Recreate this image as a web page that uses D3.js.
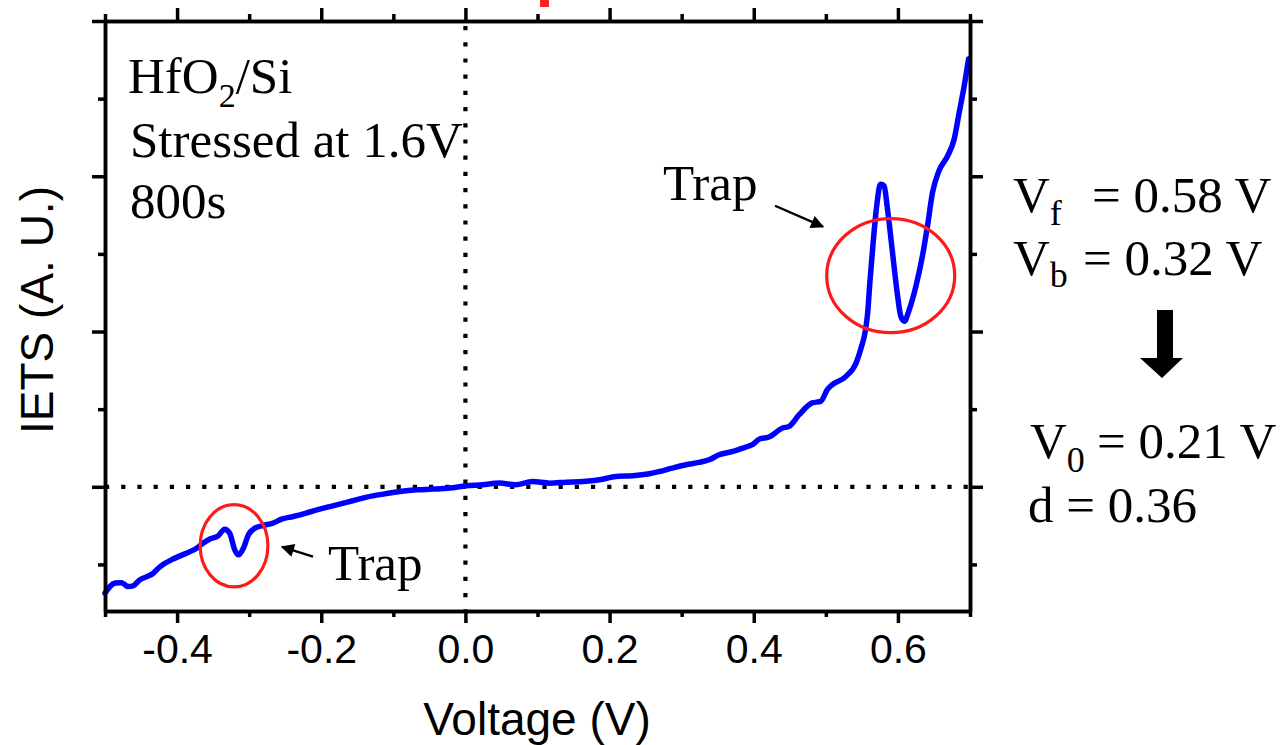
<!DOCTYPE html>
<html><head><meta charset="utf-8">
<script src="https://cdn.jsdelivr.net/npm/d3@7"></script>
<style>
html,body{margin:0;padding:0;background:#fff;}
svg{display:block;}
</style></head>
<body>
<svg id="chart" width="1283" height="745"></svg>
<script>
// ---- data ----
const voltage = [-0.500,-0.486,-0.477,-0.468,-0.461,-0.452,-0.442,-0.433,-0.426,-0.419,-0.408,-0.396,-0.382,-0.373,-0.364,-0.355,-0.343,-0.334,-0.327,-0.320,-0.315,-0.308,-0.301,-0.292,-0.281,-0.267,-0.255,-0.239,-0.221,-0.202,-0.184,-0.161,-0.137,-0.114,-0.091,-0.068,-0.045,-0.022,0.001,0.024,0.047,0.070,0.093,0.117,0.140,0.163,0.186,0.209,0.232,0.255,0.269,0.287,0.306,0.324,0.338,0.352,0.371,0.389,0.398,0.408,0.421,0.440,0.449,0.463,0.481,0.493,0.502,0.509,0.528,0.542,0.549,0.555,0.558,0.561,0.566,0.570,0.576,0.581,0.585,0.592,0.599,0.604,0.609,0.615,0.625,0.634,0.641,0.648,0.657,0.669,0.678,0.685,0.692,0.698];
const iets    = [-1.37,-1.24,-1.235,-1.286,-1.277,-1.20,-1.157,-1.114,-1.049,-0.997,-0.942,-0.890,-0.835,-0.791,-0.727,-0.675,-0.632,-0.546,-0.598,-0.813,-0.877,-0.791,-0.619,-0.533,-0.499,-0.468,-0.417,-0.383,-0.339,-0.288,-0.245,-0.190,-0.133,-0.094,-0.061,-0.039,-0.030,-0.017,0.013,0.026,0.048,0.026,0.068,0.047,0.060,0.068,0.090,0.133,0.142,0.168,0.197,0.241,0.284,0.314,0.348,0.413,0.455,0.512,0.542,0.615,0.641,0.757,0.778,0.929,1.080,1.101,1.252,1.316,1.423,1.595,1.79,2.019,2.235,2.622,3.187,3.571,3.897,3.875,3.617,3.058,2.499,2.197,2.133,2.262,2.585,2.972,3.359,3.790,4.071,4.262,4.477,4.822,5.165,5.510];

const xDomain = [-0.5, 0.7];
const yDomain = [-1.6, 6.0];
const xMajorTicks = [-0.4, -0.2, 0.0, 0.2, 0.4, 0.6];
const xMinorTicks = [-0.5, -0.3, -0.1, 0.1, 0.3, 0.5, 0.7];
const yMajorTicks = [0, 2, 4, 6];
const yMinorTicks = [-1, 1, 3, 5];

const xLabel = "Voltage (V)";
const yLabel = "IETS (A. U.)";
const infoLines = ["Stressed at 1.6V", "800s"];

// trap annotations: circle centre / radii in data units, arrow tail / tip in data units
const trapCircles = [
  {cx: -0.321, cy: -0.76, rx: 0.047, ry: 0.53},
  {cx: 0.590, cy: 2.72, rx: 0.0888, ry: 0.735}
];
const trapArrows = [
  {x1: -0.2114, y1: -0.90, x2: -0.2544, y2: -0.773},
  {x1: 0.4295, y1: 3.62, x2: 0.496, y2: 3.35}
];
const trapLabels = [
  {x: -0.1906, y: -1.20},
  {x: 0.274, y: 3.70}
];

// ---- drawing ----
const svg = d3.select("#chart");
const mLeft = 105, mRight = 970, mTop = 21, mBottom = 611;
const x = d3.scaleLinear().domain(xDomain).range([mLeft, mRight]);
const y = d3.scaleLinear().domain(yDomain).range([mBottom, mTop]);

const SERIF = "'Liberation Serif','Times New Roman',serif";
const SANS = "'Liberation Sans',Arial,sans-serif";

// dotted zero lines
svg.append("line").attr("x1", mLeft).attr("x2", mRight).attr("y1", y(0)).attr("y2", y(0))
  .attr("stroke", "#000").attr("stroke-width", 4.2).attr("stroke-dasharray", "4.2,12");
svg.append("line").attr("x1", x(0)).attr("x2", x(0)).attr("y1", mTop + 5).attr("y2", mBottom)
  .attr("stroke", "#000").attr("stroke-width", 4.2).attr("stroke-dasharray", "4.2,12");

// curve
const line = d3.line().x((d, i) => x(voltage[i])).y((d, i) => y(iets[i])).curve(d3.curveMonotoneX);
svg.append("path").datum(iets).attr("d", line).attr("fill", "none")
  .attr("stroke", "#0000ff").attr("stroke-width", 5.5)
  .attr("stroke-linejoin", "round").attr("stroke-linecap", "round");

// axes
function styleAxis(g) {
  g.selectAll("path.domain").attr("stroke", "#000").attr("stroke-width", 3.5);
  g.selectAll(".tick line").attr("stroke", "#000").attr("stroke-width", 3.5);
}
// bottom
svg.append("g").attr("transform", `translate(0,${mBottom})`)
  .call(d3.axisBottom(x).tickValues(xMinorTicks).tickSize(6).tickSizeOuter(0).tickFormat(""))
  .call(styleAxis);
const bAx = svg.append("g").attr("transform", `translate(0,${mBottom})`)
  .call(d3.axisBottom(x).tickValues(xMajorTicks).tickSize(12).tickSizeOuter(0).tickFormat(d3.format(".1f")).tickPadding(11))
  .call(styleAxis);
bAx.selectAll("text").attr("font-family", SANS).attr("font-size", 41).attr("fill", "#000")
  .text(d => d3.format(".1f")(d).replace("−", "-"));
// top
svg.append("g").attr("transform", `translate(0,${mTop})`)
  .call(d3.axisTop(x).tickValues(xMinorTicks).tickSize(7).tickSizeOuter(0).tickFormat(""))
  .call(styleAxis);
svg.append("g").attr("transform", `translate(0,${mTop})`)
  .call(d3.axisTop(x).tickValues(xMajorTicks).tickSize(13).tickSizeOuter(0).tickFormat(""))
  .call(styleAxis);
// left
svg.append("g").attr("transform", `translate(${mLeft},0)`)
  .call(d3.axisLeft(y).tickValues(yMinorTicks).tickSize(7).tickSizeOuter(0).tickFormat(""))
  .call(styleAxis);
svg.append("g").attr("transform", `translate(${mLeft},0)`)
  .call(d3.axisLeft(y).tickValues(yMajorTicks).tickSize(13).tickSizeOuter(0).tickFormat(""))
  .call(styleAxis);
// right
svg.append("g").attr("transform", `translate(${mRight},0)`)
  .call(d3.axisRight(y).tickValues(yMinorTicks).tickSize(7).tickSizeOuter(0).tickFormat(""))
  .call(styleAxis);
svg.append("g").attr("transform", `translate(${mRight},0)`)
  .call(d3.axisRight(y).tickValues(yMajorTicks).tickSize(13).tickSizeOuter(0).tickFormat(""))
  .call(styleAxis);

// axis titles
svg.append("text").attr("x", 537).attr("y", 735).attr("text-anchor", "middle")
  .attr("font-family", SANS).attr("font-size", 46).attr("fill", "#000").text(xLabel);
svg.append("text").attr("transform", "translate(53,310) rotate(-90)").attr("text-anchor", "middle")
  .attr("font-family", SANS).attr("font-size", 46).attr("fill", "#000").text(yLabel);

// in-plot info text
const info = svg.append("text").attr("x", 128).attr("y", 93)
  .attr("font-family", SERIF).attr("font-size", 51).attr("fill", "#000");
info.append("tspan").text("HfO");
info.append("tspan").attr("font-size", 34).attr("dy", 14).text("2");
info.append("tspan").attr("dy", -14).text("/Si");
infoLines.forEach((t, i) => {
  svg.append("text").attr("x", 130).attr("y", 157 + i * 61)
    .attr("font-family", SERIF).attr("font-size", 51).attr("fill", "#000").text(t);
});

// trap circles
svg.selectAll("ellipse.trap").data(trapCircles).enter().append("ellipse")
  .attr("cx", d => x(d.cx)).attr("cy", d => y(d.cy))
  .attr("rx", d => x(d.cx + d.rx) - x(d.cx)).attr("ry", d => y(d.cy) - y(d.cy + d.ry))
  .attr("fill", "none").attr("stroke", "#ff1a1a").attr("stroke-width", 3.2);

// arrows
svg.append("defs").append("marker").attr("id", "ah").attr("viewBox", "0 0 10 10")
  .attr("refX", 9).attr("refY", 5).attr("markerWidth", 7).attr("markerHeight", 5.5)
  .attr("markerUnits", "strokeWidth").attr("orient", "auto")
  .append("path").attr("d", "M0,0 L10,5 L0,10 Z").attr("fill", "#000");
svg.selectAll("line.arr").data(trapArrows).enter().append("line")
  .attr("x1", d => x(d.x1)).attr("y1", d => y(d.y1)).attr("x2", d => x(d.x2)).attr("y2", d => y(d.y2))
  .attr("stroke", "#000").attr("stroke-width", 2.4).attr("marker-end", "url(#ah)");
svg.selectAll("text.trap").data(trapLabels).enter().append("text")
  .attr("x", d => x(d.x)).attr("y", d => y(d.y))
  .attr("font-family", SERIF).attr("font-size", 51).attr("fill", "#000").text("Trap");

// right-side text
function eq(xp, yp, sub, subDy, rest, restX) {
  const t = svg.append("text").attr("x", xp).attr("y", yp)
    .attr("font-family", SERIF).attr("font-size", 51).attr("fill", "#000");
  t.append("tspan").text("V");
  t.append("tspan").attr("font-size", 36).attr("dy", subDy).text(sub);
  t.append("tspan").attr("x", restX).attr("y", yp).text(rest);
}
eq(1013, 212, "f", 13, "= 0.58 V", 1092);
eq(1013, 275, "b", 12, "= 0.32 V", 1083);
eq(1030, 458, "0", 14, "= 0.21 V", 1097);
svg.append("text").attr("x", 1028).attr("y", 522)
  .attr("font-family", SERIF).attr("font-size", 51).attr("fill", "#000").text("d = 0.36");

// block arrow
svg.append("path").attr("d", "M1157,310 L1173,310 L1173,358 L1183,358 L1162,378 L1140,358 L1157,358 Z")
  .attr("fill", "#000");

// clipped red title remnant at top
svg.append("rect").attr("x", 540).attr("y", 0).attr("width", 9).attr("height", 7).attr("fill", "#ff2020");
</script>
</body></html>
